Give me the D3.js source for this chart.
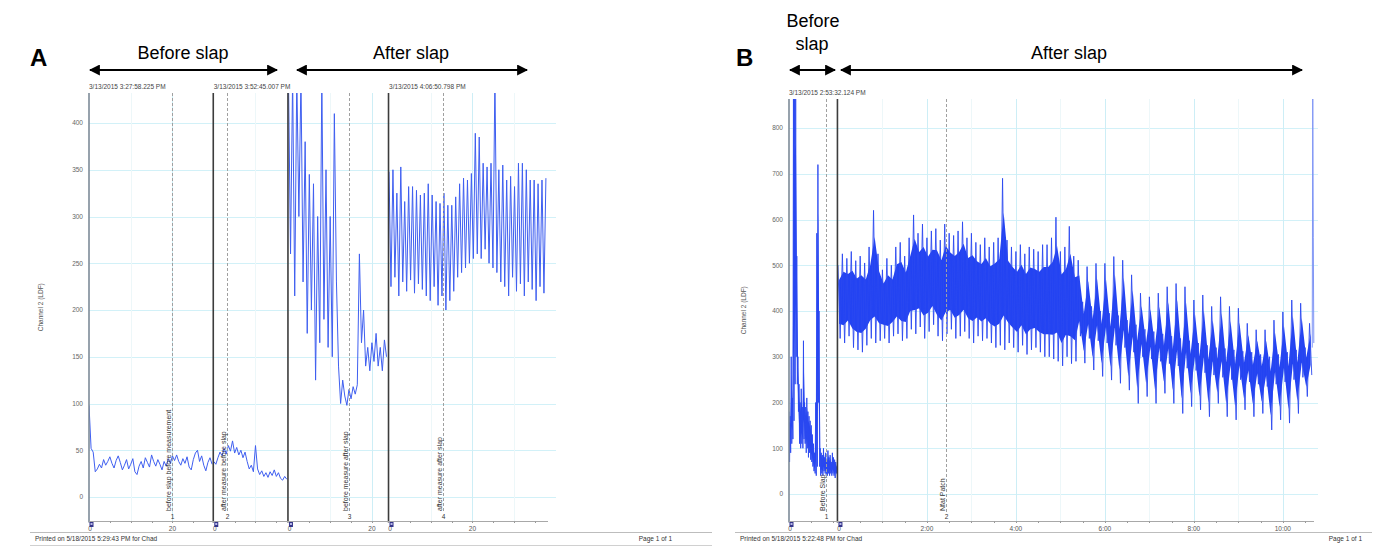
<!DOCTYPE html>
<html>
<head>
<meta charset="utf-8">
<script src="https://cdn.jsdelivr.net/npm/d3@7"></script>
<style>
body { margin: 0; background: #fff; }
text { font-family: "Liberation Sans", Arial, sans-serif; }
</style>
</head>
<body>
<div id="chart"></div>
<script>
// ---------- panel A : four LDF recordings (seconds) ----------
const aSegDur = [29.5, 17.5, 23.7, 38.1]
const aSegStep = [0.5, 0.5, 0.5, 0.47]
const aStamps = ['3/13/2015 3:27:58.225 PM', '3/13/2015 3:52:45.007 PM', '', '3/13/2015 4:06:50.798 PM']
const aTicks = [[0, 20], [0], [0, 20], [0, 20]]
const aYTicks = [0, 50, 100, 150, 200, 250, 300, 350, 400]

const aSeg1 = [98, 52, 48, 27, 30, 35, 31, 40, 34, 38, 43, 36, 31, 39, 44, 37, 29, 34, 40, 30,
  35, 41, 27, 24, 33, 38, 31, 42, 37, 32, 45, 38, 33, 40, 35, 29, 38, 33, 41, 36,
  44, 39, 45, 38, 34, 41, 36, 43, 32, 29, 40, 47, 50, 38, 44, 34, 28, 37, 42, 35]
const aSeg2 = [38, 35, 42, 48, 44, 52, 46, 55, 49, 60, 47, 53, 45, 50, 42, 48, 38, 30,
  34, 27, 55, 30, 24, 28, 22, 26, 21, 27, 23, 29, 22, 26, 20, 18, 22, 19]
const aSeg3 = [450, 260, 450, 215, 450, 300, 450, 230, 380, 175, 345, 200, 335, 125, 300, 165,
  450, 190, 350, 160, 300, 150, 410, 230, 140, 100, 125, 108, 98, 115, 105, 118,
  110, 120, 260, 165, 200, 140, 160, 135, 165, 145, 175, 140, 160, 135, 168, 150]
const aSeg4Peaks = [348, 350, 325, 353, 316, 332, 332, 328, 323, 325, 335, 323, 316, 314, 325, 312,
  312, 321, 335, 341, 339, 346, 389, 385, 357, 353, 357, 450, 350, 355, 339, 343,
  332, 357, 357, 350, 339, 339, 335, 339, 341]
const aSeg4Troughs = [225, 235, 215, 230, 220, 232, 218, 228, 222, 215, 210, 225, 205, 215, 200, 210,
  220, 235, 240, 245, 250, 255, 260, 255, 265, 250, 245, 240, 230, 225, 215, 235,
  220, 228, 215, 230, 222, 210, 225, 218]
const aSeg4 = []
aSeg4Peaks.forEach((p, i) => { aSeg4.push(p); if (i < aSeg4Troughs.length) aSeg4.push(aSeg4Troughs[i]) })
const aTraces = [aSeg1, aSeg2, aSeg3, aSeg4]

const aMarkSeg = [0, 1, 2, 3]
const aMarkT = [20, 3.1, 14.5, 12.9]
const aMarkText = ['before slap before measurement', 'after measure before slap', 'before measure after slap', 'after measure after slap']

// ---------- panel B : two LDF recordings (minutes) ----------
const bSegDur = [1.08, 10.7]
const bSegStep = [0.025, 0.1]
const bStamps = ['3/13/2015 2:53:32.124 PM', '']
const bTicks = [[0], [0, 2, 4, 6, 8, 10]]
const bYTicks = [0, 100, 200, 300, 400, 500, 600, 700, 800]

const bSeg1Hi = [180, 170, 300, 210, 880, 880, 880, 520, 300, 240, 200, 230, 190, 335, 200, 190,
  210, 180, 170, 160, 150, 130, 110, 90, 200, 570, 720, 400, 100, 90, 85, 100,
  80, 90, 75, 95, 80, 85, 70, 90, 80, 75, 70, 60]
const bSeg1Lo = [70, 90, 110, 120, 160, 240, 300, 240, 180, 110, 100, 110, 100, 120, 110, 90,
  100, 80, 90, 75, 70, 60, 50, 45, 40, 60, 200, 60, 40, 45, 40, 50,
  45, 40, 40, 45, 40, 45, 40, 45, 40, 35, 45, 40]
const bSeg2Hi = [500, 525, 515, 530, 510, 520, 505, 540, 620, 525,
  490, 515, 500, 540, 550, 520, 560,
  610, 570, 590, 560, 575, 580, 555, 590, 570, 565,
  575, 595, 560, 570, 550, 545, 560, 540, 550, 560, 690, 555,
  540, 530, 545, 525, 540, 535, 530, 545,
  545, 560, 605, 530, 540, 585, 520,
  511, 420, 497, 410, 504, 400, 504, 395, 519, 390, 511, 380, 479, 370, 439, 360,
  431, 355, 439, 350, 453, 345, 460, 340, 453, 335, 424, 330, 435, 325, 410, 320,
  431, 318, 410, 315, 406, 312, 373, 310, 359, 305, 359, 300, 380, 305, 398, 310,
  424, 315, 417, 320, 373]
const bSeg2Lo = [340, 330, 345, 320, 315, 310, 325, 340, 330, 335,
  340, 330, 345, 350, 335, 340, 360,
  350, 365, 340, 355, 370, 345, 335, 350, 360, 340,
  345, 355, 340, 330, 345, 335, 340, 330, 320, 325, 315, 330,
  320, 310, 325, 305, 315, 320, 310, 300,
  300, 295, 290, 280, 300, 285, 290,
  345, 286, 340, 271, 335, 257, 330, 249, 325, 242, 320, 227, 310, 198, 300, 213,
  295, 198, 290, 220, 285, 198, 280, 176, 275, 191, 270, 184, 265, 169, 260, 198,
  255, 169, 250, 162, 250, 184, 245, 169, 240, 176, 235, 140, 240, 162, 245, 155,
  250, 176, 255, 213, 260]
// last spike at the very end of the recording (thin line)
const bSeg2Tail = [320, 880, 560, 330]
const bHi = [bSeg1Hi, bSeg2Hi]
const bLo = [bSeg1Lo, bSeg2Lo]

const bMarkSeg = [0, 1]
const bMarkT = [0.83, 2.43]
const bMarkText = ['Before Slap', 'Nfat Patch']

// ---------- helpers ----------
const svg = d3.select('#chart').append('svg')
  .attr('width', 1376).attr('height', 548)

function offsets(durs, gap) {
  var o = [], s = 0
  durs.forEach(d => { o.push(s); s += d + gap })
  return { o: o, total: s - gap }
}

var defs = svg.append('defs')
defs.append('marker').attr('id', 'ahead')
  .attr('viewBox', '0 0 10 10').attr('refX', 9).attr('refY', 5)
  .attr('markerWidth', 5.5).attr('markerHeight', 5.5)
  .attr('orient', 'auto-start-reverse').attr('markerUnits', 'strokeWidth')
  .append('path').attr('d', 'M0,0 L10,5 L0,10 Z').attr('fill', '#000')

function arrow(x1, x2, y) {
  svg.append('line').attr('x1', x1).attr('x2', x2).attr('y1', y).attr('y2', y)
    .attr('stroke', '#000').attr('stroke-width', 2)
    .attr('marker-start', 'url(#ahead)').attr('marker-end', 'url(#ahead)')
}

function bigText(x, y, s, anchor, weight, size) {
  svg.append('text').attr('x', x).attr('y', y).text(s)
    .attr('text-anchor', anchor || 'middle')
    .style('font-size', (size || 18) + 'px')
    .style('font-weight', weight || 'normal').attr('fill', '#000')
}

// draws the print-out frame shared by both panels
function drawPanel(p) {
  var g = svg.append('g')
  var top = p.top, bot = 521.5
  var x = p.x, y = p.y, off = p.off

  g.append('clipPath').attr('id', p.id + 'clip').append('rect')
    .attr('x', x.range()[0]).attr('y', top)
    .attr('width', x.range()[1] - x.range()[0] + 1).attr('height', bot - top)

  // horizontal grid
  g.selectAll('.hg').data(p.yTicks).enter().append('line')
    .attr('x1', x.range()[0]).attr('x2', p.gridRight)
    .attr('y1', d => Math.round(y(d)) + 0.5).attr('y2', d => Math.round(y(d)) + 0.5)
    .attr('stroke', '#d2f1f8').attr('stroke-width', 1)

  // vertical grid
  g.selectAll('.vg').data(p.vGrid).enter().append('line')
    .attr('x1', d => Math.round(x(off[d[0]] + d[1])) + 0.5)
    .attr('x2', d => Math.round(x(off[d[0]] + d[1])) + 0.5)
    .attr('y1', top).attr('y2', bot)
    .attr('stroke', d => d[2] ? '#cdeef6' : '#edf7f9').attr('stroke-width', 1)

  // y labels
  g.selectAll('.yl').data(p.yTicks).enter().append('text')
    .attr('x', x.range()[0] - 6).attr('y', d => y(d)).attr('dy', '0.35em')
    .attr('text-anchor', 'end').style('font-size', '6.5px').attr('fill', '#666')
    .text(d => d)

  g.append('text')
    .attr('transform', 'translate(' + p.titleX + ',' + ((top + bot) / 2) + ') rotate(-90)')
    .attr('text-anchor', 'middle').style('font-size', '6.5px').attr('fill', '#555')
    .text('Channel 2 (LDF)')

  // traces
  p.drawTraces(g.append('g').attr('clip-path', 'url(#' + p.id + 'clip)'))

  // y axis line + segment separators
  g.append('line').attr('x1', x.range()[0]).attr('x2', x.range()[0])
    .attr('y1', top).attr('y2', bot + 1).attr('stroke', '#7d8b98').attr('stroke-width', 1.6)
  off.slice(1).forEach(o => {
    g.append('line').attr('x1', x(o) - 0.5).attr('x2', x(o) - 0.5)
      .attr('y1', top).attr('y2', bot + 1).attr('stroke', '#3c3c3c').attr('stroke-width', 1.6)
  })

  // event markers
  p.markSeg.forEach((s, i) => {
    var mx = Math.round(x(off[s] + p.markT[i])) + 0.5
    g.append('line').attr('x1', mx).attr('x2', mx).attr('y1', top).attr('y2', 512)
      .attr('stroke', '#a0a0a0').attr('stroke-dasharray', '3,2')
    g.append('text').attr('transform', 'translate(' + (mx - 1.5) + ',511) rotate(-90)')
      .style('font-size', '7px').attr('fill', '#333').text(p.markText[i])
    g.append('text').attr('x', mx).attr('y', 519).attr('text-anchor', 'middle')
      .style('font-size', '6.5px').attr('fill', '#333').text(i + 1)
  })

  // bottom axis
  g.append('line').attr('x1', x.range()[0]).attr('x2', x.range()[1])
    .attr('y1', bot).attr('y2', bot).attr('stroke', '#a8a8a8')
  p.minor.forEach(t => {
    var mx = Math.round(x(t)) + 0.5
    g.append('line').attr('x1', mx).attr('x2', mx).attr('y1', bot).attr('y2', bot + 1.5)
      .attr('stroke', '#999')
  })
  p.ticks.forEach((tk, s) => {
    tk.forEach(t => {
      g.append('text').attr('x', x(off[s] + t) + (t === 0 ? 1 : 0)).attr('y', 530.5)
        .attr('text-anchor', 'middle').style('font-size', '6.5px').attr('fill', '#555')
        .text(p.fmt(t))
    })
    // segment start flag
    g.append('rect').attr('x', x(off[s]) + 0.5).attr('y', bot + 0.5).attr('width', 4).attr('height', 5)
      .attr('fill', '#35358a')
    g.append('rect').attr('x', x(off[s]) + 1.5).attr('y', bot + 1.5).attr('width', 2).attr('height', 2)
      .attr('fill', '#b8b8e8')
  })

  // timestamps
  p.stamps.forEach((st, s) => {
    if (!st) return
    g.append('text').attr('x', x(off[s])).attr('y', top - 4)
      .style('font-size', '6.5px').attr('fill', '#444').text(st)
  })

  // footer
  g.append('line').attr('x1', p.footL).attr('x2', p.footR).attr('y1', 532.5).attr('y2', 532.5)
    .attr('stroke', '#bdbdbd')
  g.append('text').attr('x', p.footL + 5).attr('y', 540.5).style('font-size', '6.5px')
    .attr('fill', '#333').text(p.printed)
  g.append('text').attr('x', p.pageX).attr('y', 540.5).attr('text-anchor', 'end')
    .style('font-size', '6.5px').attr('fill', '#333').text('Page 1 of 1')
  if (p.footLine2) {
    g.append('line').attr('x1', p.footL).attr('x2', p.footR).attr('y1', 545.5).attr('y2', 545.5)
      .attr('stroke', '#d0d0d0')
  }
}

// ---------- panel A ----------
var aOff = offsets(aSegDur, 0.4)
var xA = d3.scaleLinear().domain([0, aOff.total]).range([89, 548])
var yA = d3.scaleLinear().domain([0, 400]).range([497, 123])
var aMinor = []
aSegDur.forEach((d, s) => { for (var t = 5; t < d; t += 5) aMinor.push(aOff.o[s] + t) })

drawPanel({
  id: 'A', x: xA, y: yA, off: aOff.o, top: 93, gridRight: 556,
  yTicks: aYTicks, titleX: 43,
  vGrid: [[0, 20, 1], [2, 20, 1], [3, 20, 1], [0, 10, 0], [2, 10, 0], [3, 10, 0], [3, 30, 0], [1, 10, 0]],
  markSeg: aMarkSeg, markT: aMarkT, markText: aMarkText,
  minor: aMinor, ticks: aTicks, fmt: t => String(t), stamps: aStamps,
  footL: 30, footR: 712, pageX: 672, footLine2: true,
  printed: 'Printed on 5/18/2015 5:29:43 PM for Chad',
  drawTraces: function (g) {
    aTraces.forEach((tr, s) => {
      var line = d3.line()
        .x((d, i) => xA(aOff.o[s] + i * aSegStep[s]))
        .y(d => yA(d))
      g.append('path').datum(tr).attr('d', line)
        .attr('fill', 'none').attr('stroke', '#3f5ff0').attr('stroke-width', 1)
        .attr('stroke-linejoin', 'round')
    })
  }
})

// ---------- panel B ----------
var bOff = offsets(bSegDur, 0.02)
var xB = d3.scaleLinear().domain([0, bOff.total]).range([789, 1314])
var yB = d3.scaleLinear().domain([0, 800]).range([494, 128])
var bMinor = []
bSegDur.forEach((d, s) => { for (var t = 0.5; t < d; t += 0.5) bMinor.push(bOff.o[s] + t) })
var bGrid = []
for (var m = 1; m <= 10; m++) bGrid.push([1, m, m % 2 === 0 ? 1 : 0])

drawPanel({
  id: 'B', x: xB, y: yB, off: bOff.o, top: 99, gridRight: 1318,
  yTicks: bYTicks, titleX: 746,
  vGrid: bGrid,
  markSeg: bMarkSeg, markT: bMarkT, markText: bMarkText,
  minor: bMinor, ticks: bTicks, fmt: t => t === 0 ? '0' : t + ':00', stamps: bStamps,
  footL: 735, footR: 1372, pageX: 1362, footLine2: false,
  printed: 'Printed on 5/18/2015 5:22:48 PM for Chad',
  drawTraces: function (g) {
    bHi.forEach((hi, s) => {
      var lo = bLo[s], st = bSegStep[s]
      // solid core of the band, the zigzag trace supplies the ragged edges
      var area = d3.area()
        .x((d, i) => xB(bOff.o[s] + (i + 0.25) * st))
        .y0((d, i) => yB(lo[i] + (d - lo[i]) * 0.2))
        .y1((d, i) => yB(d - (d - lo[i]) * 0.2))
      g.append('path').datum(hi).attr('d', area).attr('fill', '#2343f2')
      var pts = []
      hi.forEach((h, i) => {
        pts.push([bOff.o[s] + i * st, h])
        pts.push([bOff.o[s] + (i + 0.5) * st, lo[i]])
      })
      var line = d3.line().x(d => xB(d[0])).y(d => yB(d[1]))
      g.append('path').datum(pts).attr('d', line)
        .attr('fill', 'none').attr('stroke', '#2a48f0').attr('stroke-width', 0.9)
    })
    var tailT = bOff.o[1] + bSeg2Hi.length * bSegStep[1] - 0.04
    g.append('path').datum(bSeg2Tail)
      .attr('d', d3.line().x((d, i) => xB(tailT + i * 0.012)).y(d => yB(d)))
      .attr('fill', 'none').attr('stroke', '#7f95f5').attr('stroke-width', 1)
  }
})

// ---------- annotations ----------
bigText(30, 66, 'A', 'start', 'bold', 24)
bigText(183, 59, 'Before slap')
bigText(411, 59, 'After slap')
arrow(90, 277, 70)
arrow(297, 527, 70)

bigText(736, 66, 'B', 'start', 'bold', 24)
bigText(813, 27, 'Before')
bigText(812, 50, 'slap')
bigText(1069, 59, 'After slap')
arrow(790, 835, 70)
arrow(841, 1302, 70)
</script>
</body>
</html>
